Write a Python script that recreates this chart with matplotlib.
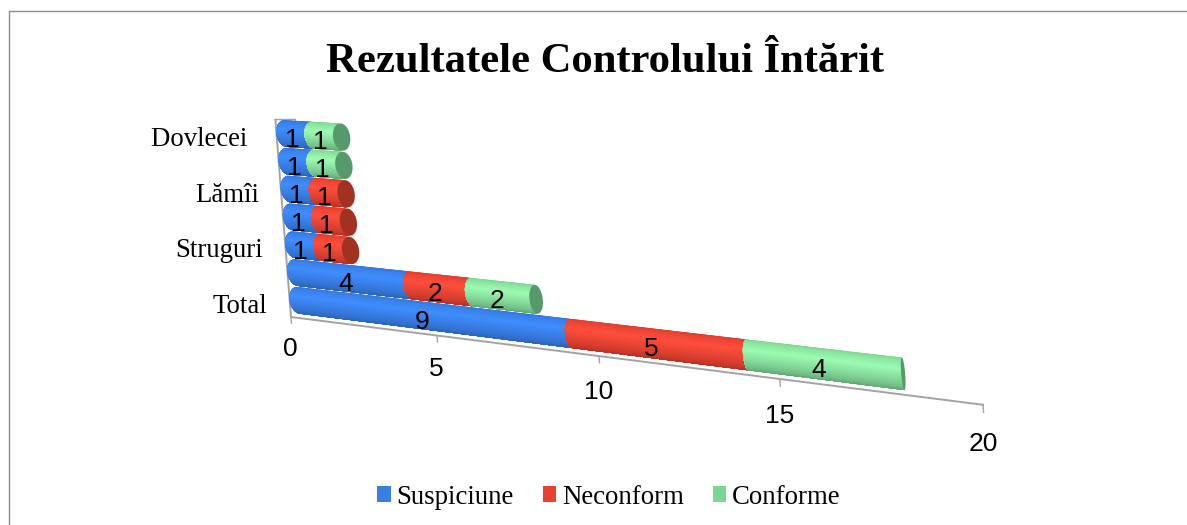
import numpy as np
import matplotlib
matplotlib.use('Agg')
from matplotlib import pyplot as plt
from matplotlib.patches import Patch
from matplotlib.transforms import Transform, Affine2D

title = 'Rezultatele Controlului Întărit'
# rows from the front of the chart to the back, every second name is hidden in the picture
categories = ['Total', '', 'Struguri', '', 'Lămîi', '', 'Dovlecei ']
series_names = ['Suspiciune', 'Neconform', 'Conforme']
suspiciune = [9, 4, 1, 1, 1, 1, 1]
neconform = [5, 2, 1, 1, 1, 0, 0]
conforme = [4, 2, 0, 0, 0, 1, 1]
value_ticks = [0, 5, 10, 15, 20]

legend_colors = ['#3B7FE3', '#E8412F', '#7AD692']
# top edge, brightest band, bottom edge, end cap
bar_shades = [
    ['#3474D6', '#3F8DFF', '#2A5FB0', '#2A5FB0'],
    ['#D93A2B', '#FF4E3C', '#B22E20', '#A33122'],
    ['#78CF8D', '#9CFBB2', '#5C9E70', '#569A6B'],
]

ROW_OFFSET = 0.6
BAR_HALF = 0.48
BANDS = 30
AXIS_COLOR = '#A3A3A3'
SANS = 'Liberation Sans'
SERIF = 'Liberation Serif'


class ChartPerspective(Transform):
    # (value, row) -> picture pixels, the 3D look of the chart
    input_dims = 2
    output_dims = 2
    is_separable = False

    def transform_non_affine(self, values):
        values = np.asarray(values, dtype=float)
        v, r = values[:, 0], values[:, 1]
        w = 1 - 0.0099 * v
        x = 291 + (27.75 * v - 2.2 * r) / w
        y = 317 + (3.52 * v - 27.8 * r) / w
        return np.column_stack([x, y])


def cap_width(v):
    return 0.334 - 0.0158 * v


def draw_segment(ax, v0, v1, row, shades, trans):
    # painted top band first, every band reaches down to the bottom so no seams show
    theta = np.linspace(-np.pi / 2, np.pi / 2, BANDS + 1)
    rows = row - BAR_HALF * np.sin(theta)
    left = v0 - cap_width(v0) * np.cos(theta)
    right = v1 - cap_width(v1) * np.cos(theta)
    top, bright, bottom = [np.array(matplotlib.colors.to_rgb(c)) for c in shades[:3]]
    for k in range(BANDS):
        t = (k + 0.5) / BANDS
        color = [np.interp(t, [0, 0.4, 1], [top[c], bright[c], bottom[c]]) for c in range(3)]
        xs = np.concatenate([left[k:], right[k:][::-1]])
        ys = np.concatenate([rows[k:], rows[k:][::-1]])
        ax.fill(xs, ys, color=color, transform=trans, lw=0, zorder=3)


fig = plt.figure(figsize=(11.87, 5.25), dpi=100)
ax = fig.add_axes([0, 0, 1, 1])
ax.set_xlim(0, 1187)
ax.set_ylim(525, 0)
ax.autoscale(False)
ax.axis('off')

persp = ChartPerspective()
axis_trans = persp + ax.transData
bar_trans = persp + Affine2D().translate(-291, 0).scale(0.995, 1).translate(300, 0) + ax.transData
tick_label_trans = persp + Affine2D().translate(-3, 1.5) + ax.transData

# outer frame, only top and left are in the crop
ax.plot([9, 9, 1187], [525, 11, 11], color='#8C8C8C', lw=1.0, zorder=1)

# axes
top_row = len(categories) + 0.1
ax.plot([20, 0, 0], [0, 0, top_row], color=AXIS_COLOR, lw=1.4, transform=axis_trans, zorder=2)
ax.plot([0, 0.72, 0.72], [top_row, top_row + 0.05, top_row - 0.05], color=AXIS_COLOR, lw=1.0,
        transform=axis_trans, zorder=2)
for tick in value_ticks:
    ax.plot([tick, tick], [0, -0.22], color=AXIS_COLOR, lw=1.0, transform=axis_trans, zorder=2)
    ax.text(tick, -1.1, str(tick), transform=tick_label_trans, ha='center', va='center',
            fontsize=19, family=SANS, color='black', zorder=6)

# bars, back rows first so the front ones overlap them
label_trans = persp + Affine2D().translate(1.5, 5.5) + ax.transData
theta_cap = np.linspace(0, 2 * np.pi, 80)
for i in range(len(categories) - 1, -1, -1):
    row = i + ROW_OFFSET
    values = [suspiciune[i], neconform[i], conforme[i]]
    start = 0
    last_shade = None
    for value, shades in zip(values, bar_shades):
        if value == 0:
            continue
        draw_segment(ax, start, start + value, row, shades, bar_trans)
        ax.text(start + value / 2, row, str(value), transform=label_trans, ha='center', va='center',
                fontsize=19, family=SANS, color='black', zorder=5)
        start += value
        last_shade = shades
    ax.fill(start + cap_width(start) * np.cos(theta_cap), row + BAR_HALF * np.sin(theta_cap),
            color=last_shade[3], transform=bar_trans, zorder=3, lw=0)
    if categories[i]:
        ax.annotate(categories[i], xy=(0, row), xycoords=axis_trans, xytext=(-22, -6),
                    textcoords='offset pixels', ha='right', va='center', fontsize=19.3,
                    family=SERIF, color='black')

ax.text(605, 62, title, ha='center', va='center', fontsize=30.7, fontweight='bold', family=SERIF,
        color='black')

handles = [Patch(facecolor=c, edgecolor='none') for c in legend_colors]
fig.legend(handles, series_names, ncol=3, loc='center', bbox_to_anchor=(609 / 1187, 1 - 497 / 525),
           frameon=False, handlelength=0.5, handleheight=0.5, handletextpad=0.22, columnspacing=1.08,
           prop={'family': SERIF, 'size': 19.3})

fig.savefig('out.png', dpi=100)
